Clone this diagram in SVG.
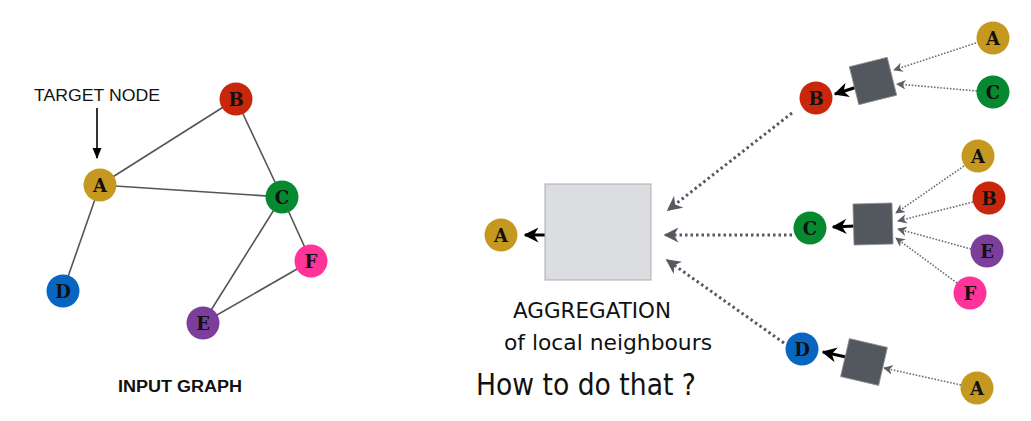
<svg xmlns="http://www.w3.org/2000/svg" width="1031" height="421" viewBox="0 0 1031 421">
  <defs>
    <style>
      .lbl { font-family: "DejaVu Serif", "Liberation Serif", serif; font-weight: bold; font-size: 18px; fill: #111; text-anchor: middle; dominant-baseline: central; }
      .edge { stroke: #555; stroke-width: 1.6; fill: none; }
      .dots { stroke: #555a61; stroke-width: 3; stroke-dasharray: 2.5 3; fill: none; }
      .thin { stroke: #6a6e75; stroke-width: 1.6; stroke-dasharray: 1.6 1.6; fill: none; }
      .agg { stroke: #000; stroke-width: 3; fill: none; }
      .hand { font-family: "DejaVu Sans", sans-serif; font-weight: normal; fill: #111; }
      .sq { fill: #53575e; stroke: #8a8d92; stroke-width: 0.8; }
      .cA { fill: #c5981f; } .cB { fill: #c8270c; } .cC { fill: #07892f; }
      .cD { fill: #0866c3; } .cE { fill: #7b3f9b; } .cF { fill: #ff3399; }
    </style>
    <marker id="ah-black" viewBox="0 0 10 10" refX="9" refY="5" markerWidth="5" markerHeight="5" orient="auto">
      <path d="M0,0 L10,5 L0,10 L3,5 z" fill="#000"/>
    </marker>
    <marker id="ah-thin" viewBox="0 0 10 10" refX="9" refY="5" markerWidth="6" markerHeight="6" orient="auto">
      <path d="M0,0 L10,5 L0,10 L3,5 z" fill="#5a5e65"/>
    </marker>
    <marker id="ah-dots" viewBox="0 0 10 10" refX="9" refY="5" markerWidth="5" markerHeight="5" orient="auto">
      <path d="M0,0 L10,5 L0,10 L3,5 z" fill="#555a61"/>
    </marker>
    <marker id="ah-target" viewBox="0 0 10 10" refX="9" refY="5" markerWidth="7" markerHeight="7" orient="auto">
      <path d="M0,1 L10,5 L0,9 z" fill="#000"/>
    </marker>
  </defs>

  <rect width="1031" height="421" fill="#fff"/>

  <!-- input graph: edges -->
  <g id="connectors">
    <line class="edge" x1="100" y1="185" x2="236" y2="99"/>
    <line class="edge" x1="100" y1="185" x2="282" y2="197"/>
    <line class="edge" x1="100" y1="185" x2="63" y2="291"/>
    <line class="edge" x1="236" y1="99" x2="282" y2="197"/>
    <line class="edge" x1="282" y1="197" x2="203" y2="323"/>
    <line class="edge" x1="282" y1="197" x2="311" y2="261"/>
    <line class="edge" x1="311" y1="261" x2="203" y2="323"/>
    <!-- target pointer -->
    <line x1="97" y1="108" x2="97" y2="158" stroke="#000" stroke-width="1.6" marker-end="url(#ah-target)"/>

    <!-- aggregation: neighbours into the central box -->
    <line class="dots" x1="792" y1="113" x2="668" y2="210" marker-end="url(#ah-dots)"/>
    <line class="dots" x1="792" y1="235" x2="665" y2="235" marker-end="url(#ah-dots)"/>
    <line class="dots" x1="784" y1="343" x2="667" y2="260" marker-end="url(#ah-dots)"/>
    <line class="agg" x1="545" y1="235" x2="525" y2="235" marker-end="url(#ah-black)"/>

    <!-- upper cluster (B) -->
    <line class="thin" x1="976" y1="43" x2="894" y2="70" marker-end="url(#ah-thin)"/>
    <line class="thin" x1="977" y1="91" x2="897" y2="84" marker-end="url(#ah-thin)"/>
    <line class="agg" x1="857" y1="87" x2="835" y2="94" marker-end="url(#ah-black)"/>

    <!-- middle cluster (C) -->
    <line class="thin" x1="964" y1="166" x2="896" y2="213" marker-end="url(#ah-thin)"/>
    <line class="thin" x1="973" y1="202" x2="898" y2="221" marker-end="url(#ah-thin)"/>
    <line class="thin" x1="971" y1="249" x2="898" y2="229" marker-end="url(#ah-thin)"/>
    <line class="thin" x1="957" y1="283" x2="896" y2="238" marker-end="url(#ah-thin)"/>
    <line class="agg" x1="855" y1="226" x2="833" y2="227" marker-end="url(#ah-black)"/>

    <!-- lower cluster (D) -->
    <line class="thin" x1="961" y1="385" x2="884" y2="368" marker-end="url(#ah-thin)"/>
    <line class="agg" x1="846" y1="357" x2="823" y2="352" marker-end="url(#ah-black)"/>
  </g>

  <!-- input graph: nodes -->
  <g id="g-A"><circle class="cA" cx="100" cy="185" r="16.5"/><text class="lbl" x="100" y="185">A</text></g>
  <g id="g-B"><circle class="cB" cx="236" cy="99" r="16.5"/><text class="lbl" x="236" y="99">B</text></g>
  <g id="g-C"><circle class="cC" cx="282" cy="197" r="16.5"/><text class="lbl" x="282" y="197">C</text></g>
  <g id="g-D"><circle class="cD" cx="63" cy="291" r="16.5"/><text class="lbl" x="63" y="291">D</text></g>
  <g id="g-E"><circle class="cE" cx="203" cy="323" r="16.5"/><text class="lbl" x="203" y="323">E</text></g>
  <g id="g-F"><circle class="cF" cx="311" cy="261" r="16.5"/><text class="lbl" x="311" y="261">F</text></g>

  <text id="target-label" x="34" y="101" font-family="Liberation Sans, Arial, sans-serif" font-size="16" fill="#111" textLength="126" lengthAdjust="spacingAndGlyphs">TARGET NODE</text>
  <text id="graph-title" x="180" y="392" font-family="Liberation Sans, Arial, sans-serif" font-size="16" font-weight="bold" fill="#111" text-anchor="middle" textLength="124" lengthAdjust="spacingAndGlyphs">INPUT GRAPH</text>

  <!-- aggregation of target node A -->
  <g id="agg-box"><rect x="545" y="184" width="106" height="96" fill="#dcdde0" stroke="#a9abaf" stroke-width="1"/></g>
  <g id="out-A"><circle class="cA" cx="501" cy="235" r="16.5"/><text class="lbl" x="501" y="235">A</text></g>

  <!-- level 1 neighbours -->
  <g id="n1-B"><circle class="cB" cx="816" cy="98" r="16.5"/><text class="lbl" x="816" y="98">B</text></g>
  <g id="n1-C"><circle class="cC" cx="810" cy="228" r="16.5"/><text class="lbl" x="810" y="228">C</text></g>
  <g id="n1-D"><circle class="cD" cx="802" cy="349" r="16.5"/><text class="lbl" x="802" y="349">D</text></g>

  <!-- per-neighbour aggregators -->
  <g id="agg-B"><rect class="sq" x="-19.5" y="-19.5" width="39" height="39" transform="translate(873 81) rotate(-14)"/></g>
  <g id="agg-C"><rect class="sq" x="-19.5" y="-20.5" width="39" height="41" transform="translate(873 224) rotate(-1.5)"/></g>
  <g id="agg-D"><rect class="sq" x="-19.5" y="-19.5" width="39" height="39" transform="translate(864 362) rotate(13)"/></g>

  <!-- level 2 neighbours -->
  <g id="n2-BA"><circle class="cA" cx="993" cy="38" r="16.5"/><text class="lbl" x="993" y="38">A</text></g>
  <g id="n2-BC"><circle class="cC" cx="993" cy="92" r="16.5"/><text class="lbl" x="993" y="92">C</text></g>
  <g id="n2-CA"><circle class="cA" cx="978" cy="156" r="16.5"/><text class="lbl" x="978" y="156">A</text></g>
  <g id="n2-CB"><circle class="cB" cx="989" cy="198" r="16.5"/><text class="lbl" x="989" y="198">B</text></g>
  <g id="n2-CE"><circle class="cE" cx="987" cy="251" r="16.5"/><text class="lbl" x="987" y="251">E</text></g>
  <g id="n2-CF"><circle class="cF" cx="970" cy="293" r="16.5"/><text class="lbl" x="970" y="293">F</text></g>
  <g id="n2-DA"><circle class="cA" cx="977" cy="388" r="16.5"/><text class="lbl" x="977" y="388">A</text></g>

  <!-- handwritten notes -->
  <text class="hand" x="513" y="318" font-size="21" textLength="158" lengthAdjust="spacingAndGlyphs">AGGREGATION</text>
  <text class="hand" x="504" y="350" font-size="21" textLength="208" lengthAdjust="spacingAndGlyphs">of local neighbours</text>
  <text class="hand" x="476" y="395" font-size="30" textLength="220" lengthAdjust="spacingAndGlyphs">How to do that ?</text>
</svg>
